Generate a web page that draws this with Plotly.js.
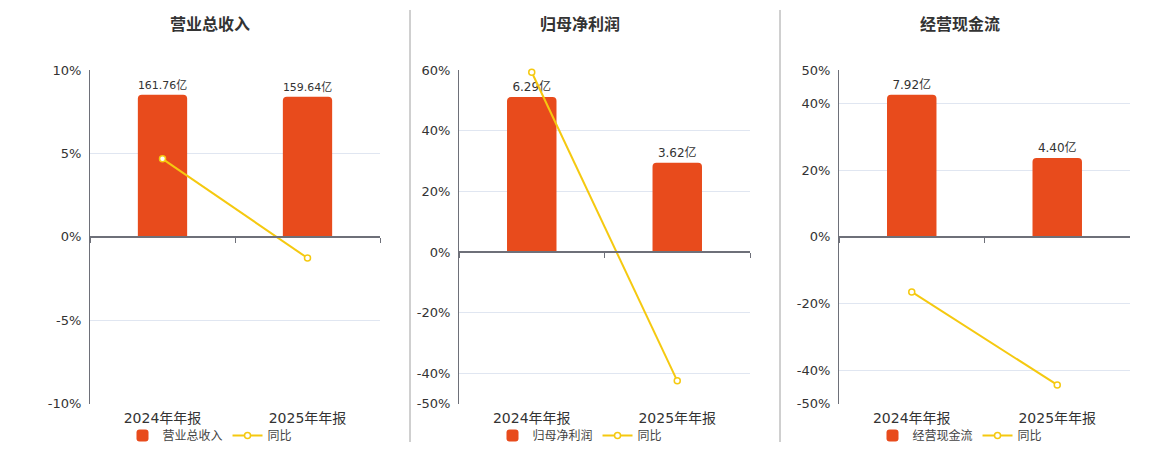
<!DOCTYPE html>
<html>
<head>
<meta charset="utf-8">
<script src="https://cdn.plot.ly/plotly-3.0.1.min.js"></script>
<style>html,body{margin:0;padding:0;background:#fff;}#chart{width:1160px;height:450px;}</style>
</head>
<body>
<div id="chart"></div>
<script>
// ---- data ----
const categories = ['2024年年报', '2025年年报'];
const revenue = [161.76, 159.64];
const revenueYoy = [4.68, -1.27];
const profit = [6.29, 3.62];
const profitYoy = [59.3, -42.5];
const cashFlow = [7.92, 4.40];
const cashFlowYoy = [-16.5, -44.4];

const panelTitles = ['营业总收入', '归母净利润', '经营现金流'];
const yoyName = '同比';
const pctTicks1 = [-10, -5, 0, 5, 10];
const pctTicks2 = [-50, -40, -20, 0, 20, 40, 60];
const pctTicks3 = [-50, -40, -20, 0, 20, 40, 50];

// ---- styling / layout config ----
const W = 1160, H = 450;
const BAR = '#E84B1C', LINE = '#F5C910';
const FONT = 'DejaVu Sans, Noto Sans CJK SC, sans-serif';
const panels = [
  {title: panelTitles[0], bars: revenue, yoy: revenueYoy, ticks: pctTicks1, pct: [-10, 10], barMax: 189.8, px: [90, 380], cx: 210},
  {title: panelTitles[1], bars: profit, yoy: profitYoy, ticks: pctTicks2, pct: [-50, 60], barMax: 7.385, px: [459, 750], cx: 580},
  {title: panelTitles[2], bars: cashFlow, yoy: cashFlowYoy, ticks: pctTicks3, pct: [-50, 50], barMax: 9.29, px: [839, 1130], cx: 960}
];
const yDom = [(H - 404.5) / H, (H - 70.3) / H];

const traces = [];
const layout = {
  width: W, height: H,
  margin: {l: 0, r: 0, t: 0, b: 0},
  paper_bgcolor: '#fff', plot_bgcolor: 'rgba(0,0,0,0)',
  font: {family: FONT, color: '#333'},
  showlegend: true,
  annotations: [], shapes: []
};

panels.forEach((p, i) => {
  const a = 2 * i + 1, b = 2 * i + 2;
  const xa = 'x' + a, xb = 'x' + b, ya = 'y' + a, yb = 'y' + b;
  const xaKey = 'xaxis' + a, xbKey = 'xaxis' + b, yaKey = 'yaxis' + a, ybKey = 'yaxis' + b;
  const legKey = i === 0 ? 'legend' : 'legend' + (i + 1);
  const dom = [p.px[0] / W, p.px[1] / W];
  const barRange = [p.barMax * p.pct[0] / p.pct[1], p.barMax];
  const zeroFrac = yDom[0] + (0 - p.pct[0]) / (p.pct[1] - p.pct[0]) * (yDom[1] - yDom[0]);

  traces.push({
    type: 'bar', x: categories, y: p.bars, xaxis: xa, yaxis: ya,
    name: p.title, legend: legKey,
    width: 0.34,
    marker: {color: BAR, cornerradius: 4},
    texttemplate: '%{y:.2f}亿', textposition: 'outside',
    textfont: {size: 12, color: '#333', family: FONT},
    cliponaxis: false, hoverinfo: 'skip'
  });
  traces.push({
    type: 'scatter', mode: 'lines+markers', x: categories, y: p.yoy, xaxis: xb, yaxis: yb,
    name: yoyName, legend: legKey,
    line: {color: LINE, width: 2},
    marker: {symbol: 'circle', size: 6, color: '#fff', line: {color: LINE, width: 1.5}},
    cliponaxis: false, hoverinfo: 'skip'
  });

  layout[xaKey] = {
    domain: dom, anchor: ya, type: 'category', range: [-0.5, 1.5],
    showline: false, ticks: '', showgrid: false, zeroline: false,
    tickfont: {size: 14, color: '#333', family: FONT}, ticklabelstandoff: 4
  };
  layout[yaKey] = {
    domain: yDom, anchor: xa, range: barRange, visible: false, fixedrange: true
  };
  layout[xbKey] = {
    overlaying: xa, anchor: 'free', position: zeroFrac, type: 'category', range: [-0.5, 1.5],
    showline: true, linecolor: '#6E7079', linewidth: 2,
    ticks: 'outside', tickson: 'boundaries', ticklen: 5, tickcolor: '#6E7079', tickwidth: 1,
    showticklabels: false, showgrid: false, zeroline: false
  };
  layout[ybKey] = {
    overlaying: ya, anchor: xa, side: 'left', range: p.pct,
    tickmode: 'array', tickvals: p.ticks, ticktext: p.ticks.map(v => v + '%'),
    showgrid: true, gridcolor: '#E0E6F1', gridwidth: 1,
    zeroline: false, showline: true, linecolor: '#6E7079', linewidth: 1,
    ticks: '', ticklabelstandoff: 5,
    tickfont: {size: 13, color: '#333', family: FONT}
  };
  layout[legKey] = {
    orientation: 'h', x: p.cx / W, xanchor: 'center', y: (H - 436) / H, yanchor: 'middle',
    font: {size: 12, color: '#444', family: FONT}, bgcolor: 'rgba(0,0,0,0)',
    itemwidth: 30, tracegroupgap: 0
  };
  layout.annotations.push({
    xref: 'paper', yref: 'paper', x: p.cx / W, y: (H - 23) / H, xanchor: 'center', yanchor: 'middle',
    text: '<b>' + p.title + '</b>', showarrow: false,
    font: {size: 16, color: '#333', family: 'Noto Sans CJK SC, sans-serif'}
  });
});

[410, 780].forEach(sx => {
  layout.shapes.push({
    type: 'line', xref: 'paper', yref: 'paper', x0: sx / W, x1: sx / W,
    y0: (H - 10) / H, y1: (H - 443) / H, line: {color: '#A0A0A0', width: 1}
  });
});

Plotly.newPlot('chart', traces, layout, {displayModeBar: false, staticPlot: true});
</script>
</body>
</html>
